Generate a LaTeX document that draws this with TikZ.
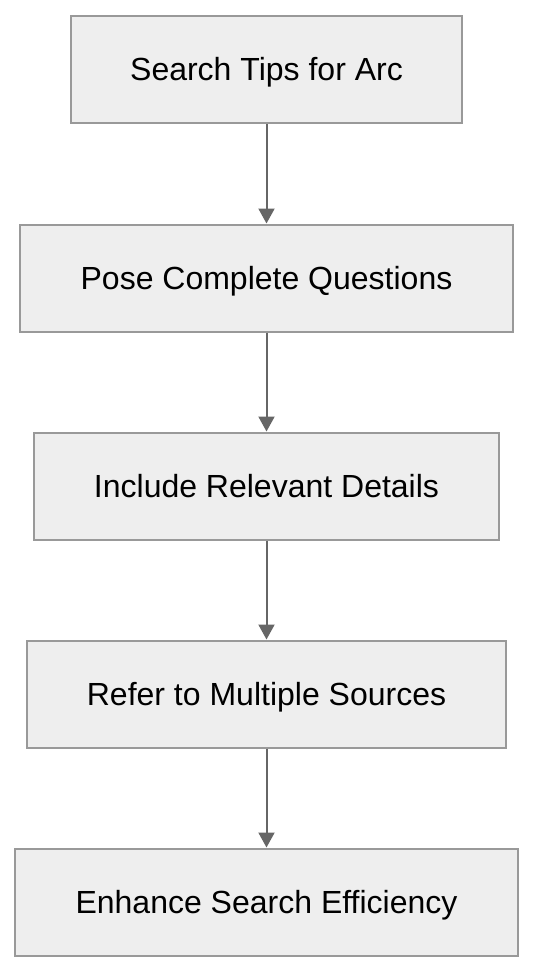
\documentclass[tikz,border=0pt]{standalone}
\usepackage{fontspec}
\setmainfont{Liberation Sans}
\usetikzlibrary{arrows.meta}
\definecolor{boxfill}{HTML}{EEEEEE}
\definecolor{boxline}{HTML}{999999}
\definecolor{arrowcol}{HTML}{666666}
\begin{document}
\begin{tikzpicture}[x=1pt,y=-1pt,
  stepbox/.style={draw=boxline,fill=boxfill,line width=2pt,minimum height=107pt,inner sep=0pt,
    text height=22.9pt,text depth=0pt,
    font=\fontsize{32pt}{36pt}\selectfont},
  conn/.style={draw=arrowcol,line width=2pt,-{Triangle[width=16pt,length=15pt]}}]
\useasboundingbox (0,0) rectangle (534,972);
\node[stepbox,minimum width=391pt] (a) at (266.5,69.5) {Search Tips for Arc};
\node[stepbox,minimum width=493pt] (b) at (266.5,278) {Pose Complete Questions};
\node[stepbox,minimum width=465pt] (c) at (266.5,486) {Include Relevant Details};
\node[stepbox,minimum width=479pt] (d) at (266.5,694) {Refer to Multiple Sources};
\node[stepbox,minimum width=503pt] (e) at (266.5,902) {Enhance Search Efficiency};
\draw[conn] (a) -- (b);
\draw[conn] (b) -- (c);
\draw[conn] (c) -- (d);
\draw[conn] (d) -- (e);
\end{tikzpicture}
\end{document}
